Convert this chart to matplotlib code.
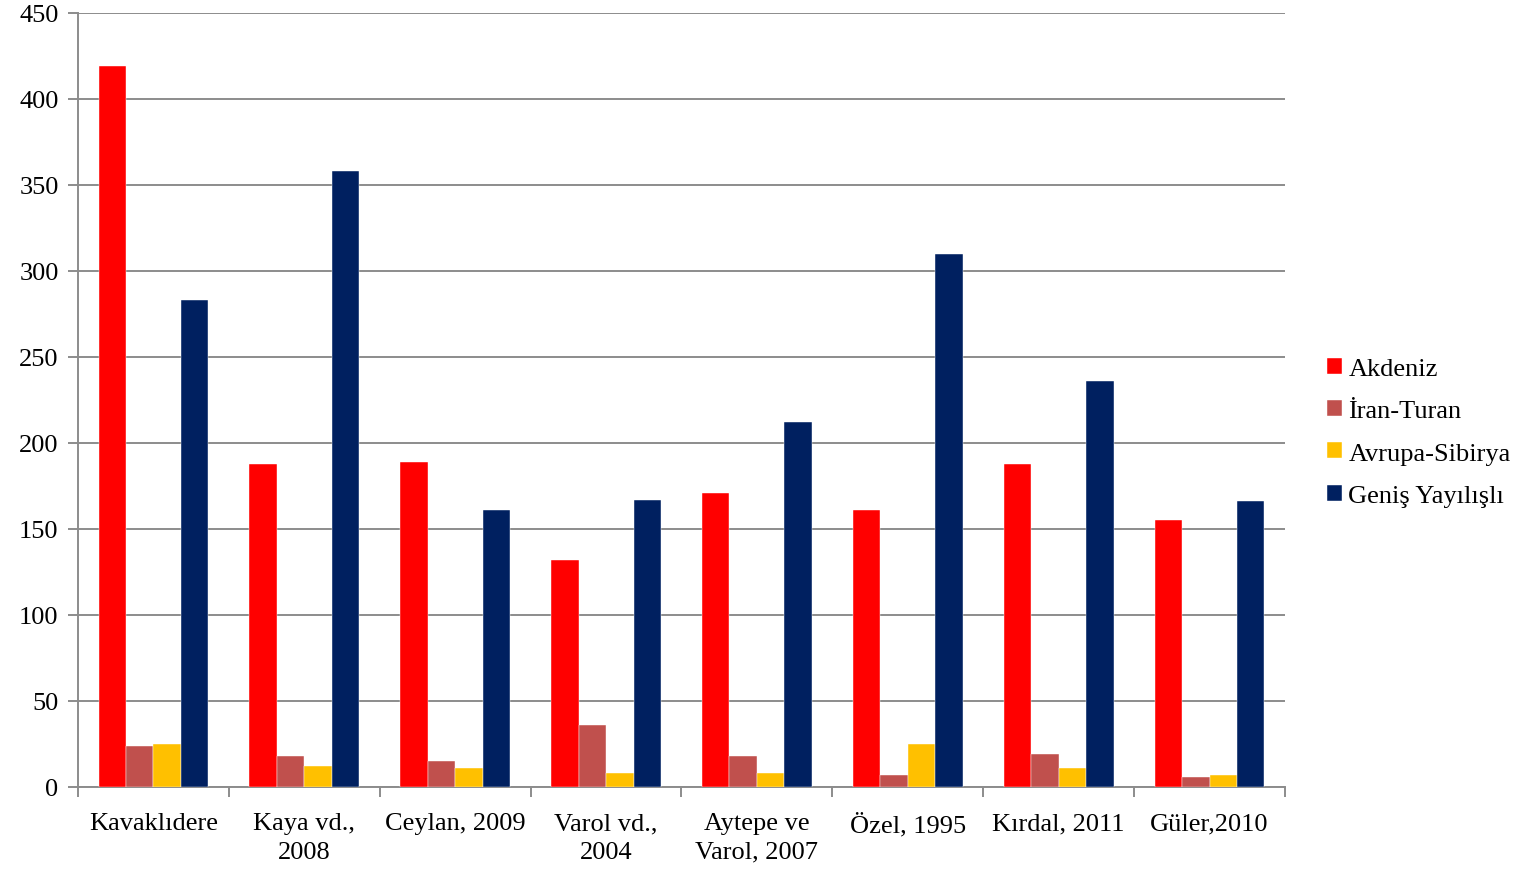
import numpy as np
import matplotlib.pyplot as plt

plt.rcParams['font.family'] = ['Liberation Serif', 'DejaVu Serif']

categories = ['Kavaklıdere', 'Kaya vd.,\n2008', 'Ceylan, 2009', 'Varol vd.,\n2004',
              'Aytepe ve\nVarol, 2007', 'Özel, 1995', 'Kırdal, 2011', 'Güler,2010']
akdeniz = [419, 188, 189, 132, 171, 161, 188, 155]
iran_turan = [24, 18, 15, 36, 18, 7, 19, 6]
avrupa_sibirya = [25, 12, 11, 8, 8, 25, 11, 7]
genis = [283, 358, 161, 167, 212, 310, 236, 166]

series = [('Akdeniz', akdeniz, '#FF0000'),
          ('İran-Turan', iran_turan, '#C0504D'),
          ('Avrupa-Sibirya', avrupa_sibirya, '#FFC000'),
          ('Geniş Yayılışlı', genis, '#002060')]

fs = 19

fig = plt.figure(figsize=(15.21, 8.7), dpi=100)
ax = fig.add_axes([0.0513, 0.0943, 0.7935, 0.8897])

x = np.arange(len(categories))
w = 0.182
for i, (name, vals, col) in enumerate(series):
    ax.bar(x + (i - 1.5) * w, vals, w, color=col, label=name, zorder=3,
           edgecolor='white', linewidth=0.3)

ax.set_xlim(-0.5, len(categories) - 0.5)
ax.set_ylim(0, 450)
ax.set_yticks(range(0, 451, 50))
ax.yaxis.grid(True, color='#8c8c8c', linewidth=1.4, zorder=0)

ax.set_xticks(np.arange(-0.5, len(categories)), [''] * (len(categories) + 1))
ax.set_xticks(x, categories, minor=True, linespacing=1.4)
ax.tick_params(axis='x', which='major', length=7, width=1.4, color='#8c8c8c', direction='out')
ax.tick_params(axis='x', which='minor', length=0, pad=18, labelsize=fs)
ax.tick_params(axis='y', length=7, width=1.4, color='#8c8c8c', labelsize=fs, pad=7)

for s in ['top', 'right']:
    ax.spines[s].set_visible(False)
for s in ['left', 'bottom']:
    ax.spines[s].set_color('#8c8c8c')
    ax.spines[s].set_linewidth(1.4)

fig.legend(loc='center left', bbox_to_anchor=(0.857, 0.502), frameon=False,
           fontsize=fs, handlelength=0.55, handleheight=0.55, handletextpad=0.25,
           labelspacing=0.76)

fig.savefig('out.png', dpi=100)
